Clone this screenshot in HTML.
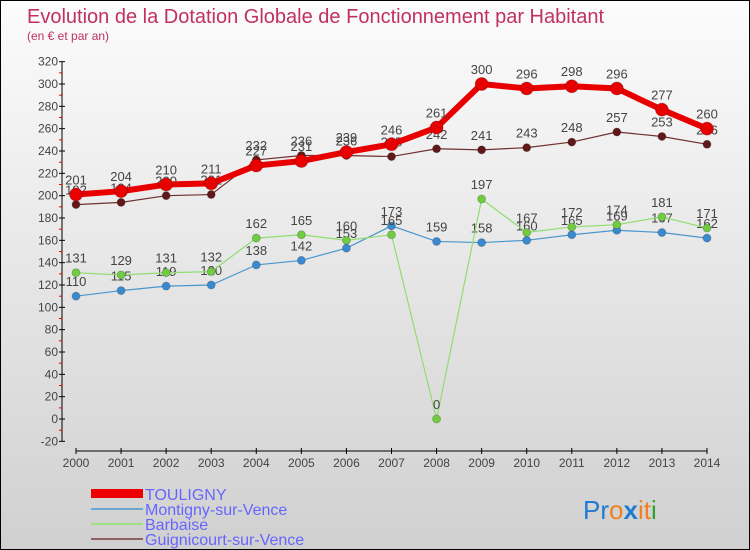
<!DOCTYPE html>
<html><head><meta charset="utf-8"><style>
body{margin:0}
#c{position:relative;width:748px;height:548px;border:1px solid #000;background:linear-gradient(#fcfcfc,#d0d0d0);font-family:"Liberation Sans",sans-serif;overflow:hidden}
</style></head><body>
<div id="c">
<svg id="s" width="748" height="548" style="position:absolute;left:0;top:0">
<text x="26" y="22" font-size="20" fill="#c03060">Evolution de la Dotation Globale de Fonctionnement par Habitant</text>
<text x="26" y="39" font-size="12" fill="#c03060">(en € et par an)</text>
<g id="axes"></g><g id="series"></g>
<g>
<rect x="90" y="488" width="52" height="9" fill="#e00"/>
<text x="144" y="499" font-size="16" fill="#66f">TOULIGNY</text>
<rect x="90" y="507" width="52" height="2" fill="#6aa6d0"/>
<text x="144" y="514" font-size="16" fill="#66f">Montigny-sur-Vence</text>
<rect x="90" y="522" width="52" height="2" fill="#9fe080"/>
<text x="144" y="529" font-size="16" fill="#66f">Barbaise</text>
<rect x="90" y="537" width="52" height="2" fill="#906060"/>
<text x="144" y="544" font-size="16" fill="#66f">Guignicourt-sur-Vence</text>
</g>
<text x="582" y="518" font-size="26"><tspan fill="#1e7cd0">Pr</tspan><tspan fill="#f08020">o</tspan><tspan fill="#1e7cd0" font-weight="bold">x</tspan><tspan fill="#f08020">it</tspan><tspan fill="#30a030">i</tspan></text>
</svg>
</div>
<script>
const years=[2000,2001,2002,2003,2004,2005,2006,2007,2008,2009,2010,2011,2012,2013,2014];
const yTicks=[-20,0,20,40,60,80,100,120,140,160,180,200,220,240,260,280,300,320];
const touligny=[201,204,210,211,227,231,239,246,261,300,296,298,296,277,260];
const montigny=[110,115,119,120,138,142,153,173,159,158,160,165,169,167,162];
const barbaise=[131,129,131,132,162,165,160,165,0,197,167,172,174,181,171];
const guignicourt=[192,194,200,201,232,236,236,235,242,241,243,248,257,253,246];
const NS="http://www.w3.org/2000/svg";
const xS=i=>75+i*(706-75)/14;
const yS=v=>418-v*(335/300);
function mk(t,a,p){const e=document.createElementNS(NS,t);for(const k in a)e.setAttribute(k,a[k]);p.appendChild(e);return e;}
const ax=document.getElementById('axes');
mk('line',{x1:61,y1:yS(320),x2:61,y2:yS(-20),stroke:'#000'},ax);
mk('line',{x1:75,y1:450,x2:706,y2:450,stroke:'#000'},ax);
yTicks.forEach((v,k)=>{const y=yS(v);
mk('line',{x1:58,y1:y,x2:64,y2:y,stroke:'#000'},ax);
if(k>0)mk('line',{x1:58,y1:y+11.2,x2:61,y2:y+11.2,stroke:'#e00'},ax);
const t=mk('text',{x:57,y:y+4,'font-size':12,fill:'#444','text-anchor':'end'},ax);


t.textContent=v;});
years.forEach((yr,i)=>{const x=xS(i);
mk('line',{x1:x,y1:447,x2:x,y2:453,stroke:'#000'},ax);
const t=mk('text',{x:x,y:466,'font-size':12,fill:'#444','text-anchor':'middle'},ax);


t.textContent=yr;});
const sg=document.getElementById('series');
function draw(name,vals,color,w,r,dot){
const g=mk('g',{},sg);


const l=mk('polyline',{points:vals.map((v,i)=>xS(i)+','+yS(v)).join(' '),fill:'none',stroke:color,'stroke-width':w},g);


vals.forEach((v,i)=>{
const c=mk('circle',{cx:xS(i),cy:yS(v),r:r,fill:dot,stroke:'rgba(0,0,0,0.2)'},g);


const t=mk('text',{x:xS(i),y:yS(v)-10,'font-size':13,fill:'#444','text-anchor':'middle'},g);


t.textContent=v;});}
draw('montigny',montigny,'#4a96cc',1.2,4,'#3a8ad0');
draw('barbaise',barbaise,'#90dd70',1.2,4,'#70cc40');
draw('guignicourt',guignicourt,'#703030',1.2,4,'#601818');
draw('touligny',touligny,'#e80000',6,6.5,'#e80000');
</script>
</body></html>
